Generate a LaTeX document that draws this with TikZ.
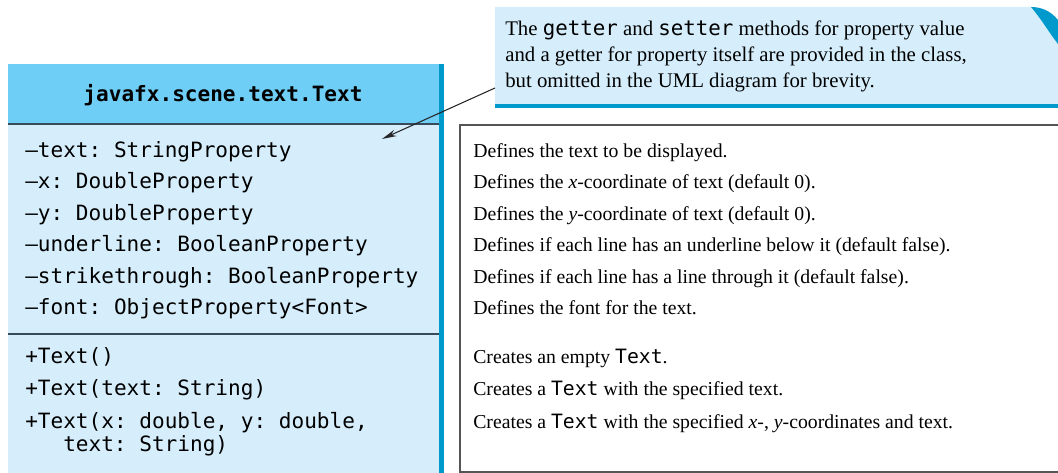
\documentclass[tikz,border=0pt]{standalone}
\usepackage{fontspec}
\setmainfont{Liberation Serif}
\setmonofont{DejaVu Sans Mono}
\usetikzlibrary{arrows.meta}
\definecolor{hdrblue}{RGB}{110,206,245}
\definecolor{bodyblue}{RGB}{214,238,251}
\definecolor{edgeblue}{RGB}{0,153,204}
\definecolor{sepline}{RGB}{55,75,90}
\definecolor{boxgray}{RGB}{85,85,85}
\begin{document}
\begin{tikzpicture}[x=0.75pt,y=-0.75pt,
  mono/.style={font=\fontsize{15.8}{19}\ttfamily, anchor=base west, inner sep=0pt},
  desc/.style={font=\fontsize{14.8}{18}\selectfont, anchor=base west, inner sep=0pt},
  hdrtext/.style={font=\fontsize{15.8}{19}\ttfamily\bfseries, inner sep=0pt},
  notetext/.style={font=\fontsize{15.6}{19.5}\selectfont, anchor=north west, inner sep=0pt, align=left},
  sep/.style={draw=sepline, line width=1.5pt},
  pointer/.style={draw=black!85, line width=0.8pt, -{Stealth[length=11pt,width=5pt]}}
]
\useasboundingbox (0,0) rectangle (1058,473);
% class box
\fill[hdrblue] (8,64) rectangle (439,124);
\fill[bodyblue] (8,124) rectangle (439,474);
\fill[edgeblue] (439,64) rectangle (444,474);
\draw[sep] (8,124) -- (439,124);
\draw[sep, line width=1.1pt] (8,334) -- (439,334);
\node[hdrtext] (hdr) at (223,95) {javafx.scene.text.Text};
% attributes
\node[mono] (a1) at (25,158) {–text: StringProperty};
\node[mono] (a2) at (25,189) {–x: DoubleProperty};
\node[mono] (a3) at (25,221) {–y: DoubleProperty};
\node[mono] (a4) at (25,252) {–underline: BooleanProperty};
\node[mono] (a5) at (25,284) {–strikethrough: BooleanProperty};
\node[mono] (a6) at (25,315) {–font: ObjectProperty<Font>};
% methods
\node[mono] (m1) at (25,364) {+Text()};
\node[mono] (m2) at (25,396) {+Text(text: String)};
\node[mono] (m3) at (25,429) {+Text(x: double, y: double,};
\node[mono] (m4) at (63,452) {text: String)};
% description box
\draw[boxgray, line width=1.4pt] (460,125) rectangle (1062,472);
\node[desc] (d1) at (473,158) {Defines the text to be displayed.};
\node[desc] (d2) at (473,189) {Defines the \textit{x}-coordinate of text (default 0).};
\node[desc] (d3) at (473,221) {Defines the \textit{y}-coordinate of text (default 0).};
\node[desc] (d4) at (473,252) {Defines if each line has an underline below it (default false).};
\node[desc] (d5) at (473,284) {Defines if each line has a line through it (default false).};
\node[desc] (d6) at (473,315) {Defines the font for the text.};
\node[desc] (d7) at (473,364) {Creates an empty \texttt{Text}.};
\node[desc] (d8) at (473,396) {Creates a \texttt{Text} with the specified text.};
\node[desc] (d9) at (473,429) {Creates a \texttt{Text} with the specified \textit{x}-, \textit{y}-coordinates and text.};
% callout
\fill[bodyblue] (495,7) -- (1031,7) .. controls (1042,20) and (1050,34) .. (1058,44) -- (1058,108) -- (495,108) -- cycle;
\fill[edgeblue] (1031,7) .. controls (1042,20) and (1050,34) .. (1058,44) -- (1058,20) .. controls (1050,10) and (1040,7) .. cycle;
\fill[edgeblue] (495,104) rectangle (1058,108);
\node[notetext] (note) at (505,21) {The \texttt{getter} and \texttt{setter} methods for property value\\
and a getter for property itself are provided in the class,\\
but omitted in the UML diagram for brevity.};
\coordinate (notetail) at (495,88);
\coordinate (attrs) at (382,139);
\draw[pointer] (notetail) -- (attrs);
\end{tikzpicture}
\end{document}
